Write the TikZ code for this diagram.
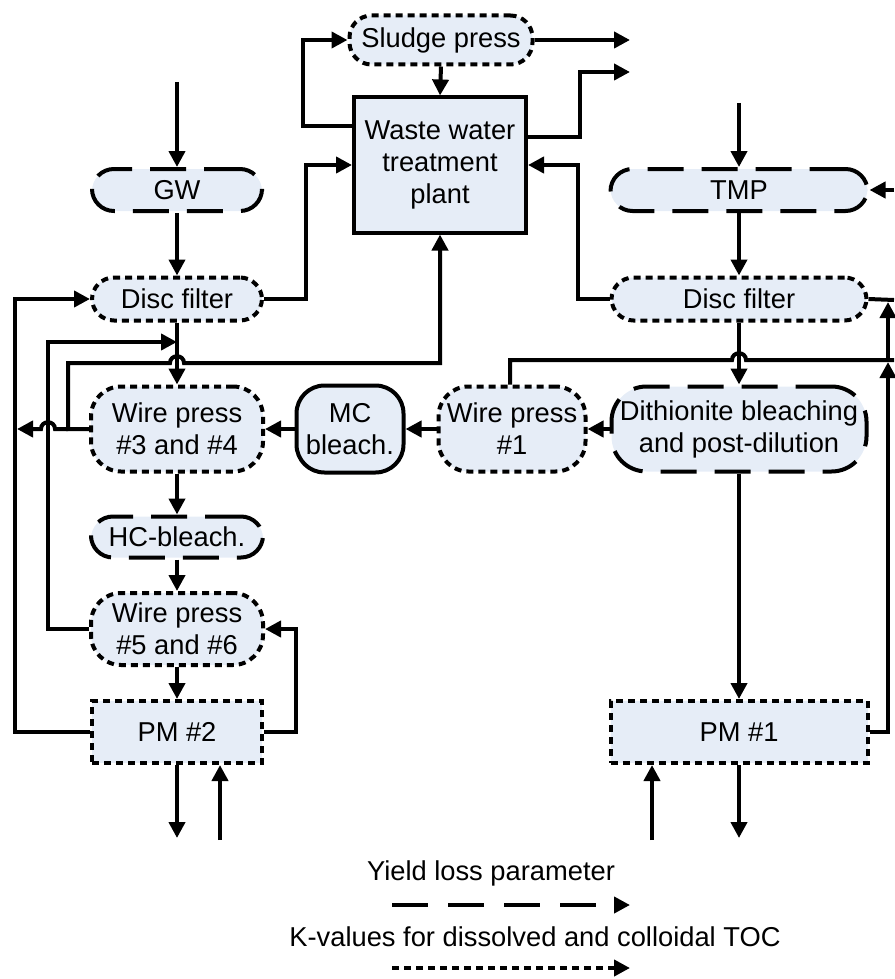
\documentclass[tikz,border=0pt]{standalone}
\usepackage{fontspec}
\setmainfont{Liberation Sans}
\usetikzlibrary{arrows.meta}
\definecolor{nodefill}{HTML}{E6EDF7}
\begin{document}
\begin{tikzpicture}[x=1pt,y=-1pt,
  every node/.style={font=\fontsize{27.3}{32}\selectfont, align=center, inner sep=0pt},
  dotbox/.style={draw, line width=4pt, fill=nodefill, dash pattern=on 7pt off 5pt},
  dashbox/.style={draw, line width=4pt, fill=nodefill, dash pattern=on 36pt off 18pt},
  solidbox/.style={draw, line width=4pt, fill=nodefill},
  flow/.style={line width=4pt, -{Triangle[length=16pt,width=16pt]}},
  plain/.style={line width=4pt}]
\useasboundingbox (0,0) rectangle (894,979);

% nodes
\node[dotbox, rounded corners=22pt, minimum width=183pt, minimum height=49pt] (sludge) at (441,40) {Sludge press};
\node[solidbox, minimum width=172pt, minimum height=135pt] (wwtp) at (440,165) {Waste water\\treatment\\plant};
\node[dashbox, rounded corners=22pt, minimum width=170pt, minimum height=42pt] (gw) at (177,190) {GW};
\node[dotbox, rounded corners=22pt, minimum width=170pt, minimum height=43pt] (df1) at (177,299) {Disc filter};
\node[dashbox, rounded corners=22pt, minimum width=257pt, minimum height=42pt] (tmp) at (739,190) {TMP};
\node[dotbox, rounded corners=22pt, minimum width=255pt, minimum height=43pt] (df2) at (739,299) {Disc filter};
\node[dotbox, rounded corners=30pt, minimum width=172pt, minimum height=85pt] (wp34) at (177,429) {Wire press\\\#3 and \#4};
\node[solidbox, rounded corners=28pt, minimum width=107pt, minimum height=87pt] (mc) at (350,429) {MC\\bleach.};
\node[dotbox, rounded corners=30pt, minimum width=147pt, minimum height=85pt] (wp1) at (512,429) {Wire press\\\#1};
\node[dashbox, rounded corners=35pt, minimum width=255pt, minimum height=85pt] (dith) at (739,429) {Dithionite bleaching\\and post-dilution};
\node[dashbox, rounded corners=22pt, minimum width=172pt, minimum height=41pt] (hc) at (177,537) {HC-bleach.};
\node[dotbox, rounded corners=30pt, minimum width=172pt, minimum height=72pt] (wp56) at (177,629) {Wire press\\\#5 and \#6};
\node[dotbox, minimum width=170pt, minimum height=62pt] (pm2) at (177,732) {PM \#2};
\node[dotbox, minimum width=257pt, minimum height=62pt] (pm1) at (739,732) {PM \#1};

% free ends
\coordinate (out1) at (630,40);
\coordinate (out2) at (630,72);
\coordinate (gwin) at (177,82);
\coordinate (tmpin) at (739,103);
\coordinate (tmpr) at (894,190);
\coordinate (j1) at (177,342);
\coordinate (k1) at (68,429);
\coordinate (j2) at (17,429);
\coordinate (e1) at (894,360);
\coordinate (e2) at (894,300);
\coordinate (j3) at (888,362);
\coordinate (j4) at (888,302);
\coordinate (p2out) at (177,838);
\coordinate (p2in) at (220,840);
\coordinate (p1in) at (652,840);
\coordinate (p1out) at (739,838);

% top
\draw[flow] (sludge.south) -- (wwtp.north);
\draw[flow] ([yshift=39pt]wwtp.west) -- (303,126) -- (303,40) -- (sludge.west);
\draw[flow] (sludge.east) -- (out1);
\draw[flow] ([yshift=28pt]wwtp.east) -- (580,137) -- (580,72) -- (out2);

% left column
\draw[flow] (gwin) -- (gw.north);
\draw[flow] (gw.south) -- (df1.north);
\draw[flow] (df1.east) -- (306,299) -- (306,165) -- (wwtp.west);
\draw[flow] (df1.south) -- (wp34.north);
\draw[flow] (wp56.west) -- (48,629) -- (48,342) -- (j1);
\draw[flow] (wp34.west) -- (k1) -- (68,363) -- (170,363) .. controls (170,354) and (184,354) .. (184,363) -- (440,363) -- (wwtp.south);
\draw[flow] (k1) -- (55,429) .. controls (55,420) and (41,420) .. (41,429) -- (j2);
\draw[flow] (pm2.west) -- (15,732) -- (15,299) -- (df1.west);
\draw[flow] (wp34.south) -- (hc.north);
\draw[flow] (hc.south) -- (wp56.north);
\draw[flow] (wp56.south) -- (pm2.north);
\draw[flow] (pm2.east) -- (296,732) -- (296,629) -- (wp56.east);
\draw[flow] (pm2.south) -- (p2out);
\draw[flow] (p2in) -- (p2in |- pm2.south);

% middle row
\draw[flow] (mc.west) -- (wp34.east);
\draw[flow] (wp1.west) -- (mc.east);
\draw[flow] (dith.west) -- (wp1.east);

% right column
\draw[flow] (tmpin) -- (tmp.north);
\draw[flow] (tmpr) -- (tmp.east);
\draw[flow] (tmp.south) -- (df2.north);
\draw[flow] (df2.west) -- (578,299) -- (578,165) -- (wwtp.east);
\draw[flow] (df2.south) -- (dith.north);
\draw[plain] ([xshift=-2pt]wp1.north) -- (510,360) -- (732,360) .. controls (732,351) and (746,351) .. (746,360) -- (e1);
\draw[plain] (df2.east) -- (e2);
\draw[flow] (pm1.east) -- (888,732) -- (j3);
\draw[flow] (j3) -- (j4);
\draw[flow] (dith.south) -- (pm1.north);
\draw[flow] (p1in) -- (p1in |- pm1.south);
\draw[flow] (pm1.south) -- (p1out);

% legend
\node (leg1) at (491,873) {Yield loss parameter};
\coordinate (l1a) at (392,905);
\coordinate (l1b) at (630,905);
\draw[flow, dash pattern=on 36pt off 20pt] (l1a) -- (l1b);
\node (leg2) at (535,937) {K-values for dissolved and colloidal TOC};
\coordinate (l2a) at (392,968);
\coordinate (l2b) at (630,968);
\draw[flow, dash pattern=on 7pt off 5pt] (l2a) -- (l2b);
\end{tikzpicture}
\end{document}
